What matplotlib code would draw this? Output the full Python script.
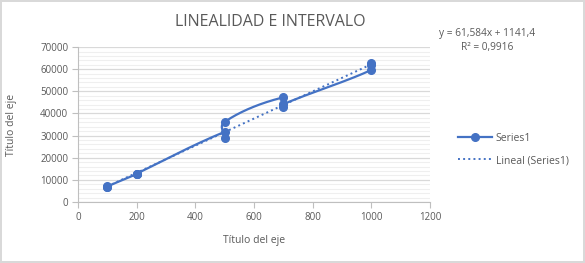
import numpy as np
import matplotlib

matplotlib.use("Agg")
import matplotlib.pyplot as plt
from matplotlib.ticker import MultipleLocator

# data (three replicates per concentration, in plotted order)
concentration = [100, 100, 100, 200, 200, 200, 500, 500, 500,
                 700, 700, 700, 1000, 1000, 1000]
area = [6900, 6700, 7000, 12600, 12500, 12800, 31700, 29000, 36200,
        47300, 42700, 44200, 59700, 62600, 61900]

equation_text = "y = 61,584x + 1141,4"
r2_text = "R² = 0,9916"

BLUE = "#4472C4"
GREY_TXT = "#595959"


def smooth_path(xs, ys, steps=30):
    """Bezier smoothing through the points in order (like Excel's smoothed line)."""
    pts = np.column_stack([xs, ys]).astype(float)
    scale = np.array([1.0 / 1200, 1.0 / 70000])
    p = pts * scale
    p = np.vstack([p[0], p, p[-1]])
    out = []
    for i in range(1, len(p) - 2):
        p0, p1, p2, p3 = p[i - 1], p[i], p[i + 1], p[i + 2]
        seglen = np.linalg.norm(p2 - p1)
        if seglen < 1e-9:
            continue
        d1, d2 = p2 - p0, p3 - p1
        n1, n2 = np.linalg.norm(d1), np.linalg.norm(d2)
        # tangent directions, control arms sized by the segment length
        c1 = p1 + (d1 / n1 if n1 > 0 else 0) * seglen / 3
        c2 = p2 - (d2 / n2 if n2 > 0 else 0) * seglen / 3
        t = np.linspace(0, 1, steps)[:, None]
        seg = ((1 - t) ** 3) * p1 + 3 * ((1 - t) ** 2) * t * c1 + 3 * (1 - t) * t ** 2 * c2 + t ** 3 * p2
        out.append(seg)
    res = np.vstack(out) / scale
    return res[:, 0], res[:, 1]


plt.rcParams["font.family"] = ["Open Sans", "DejaVu Sans"]

fig = plt.figure(figsize=(5.85, 2.63), dpi=100)
fig.patch.set_edgecolor("#d9d9d9")
fig.patch.set_linewidth(1.5)
ax = fig.add_axes([0.1333, 0.232, 0.602, 0.589])

sx, sy = smooth_path(concentration, area)
ax.plot(sx, sy, color=BLUE, lw=1.6, zorder=3)
ax.plot(concentration, area, "o", color=BLUE, ms=5.5, zorder=4)
ax.plot([], [], "-o", color=BLUE, ms=5.5, lw=1.6, label="Series1")

slope, intercept = np.polyfit(concentration, area, 1)
tx = np.array([min(concentration), max(concentration)])
ax.plot(tx, slope * tx + intercept, ":", color=BLUE, lw=1.4, zorder=2,
        label="Lineal (Series1)")

ax.set_xlim(0, 1200)
ax.set_ylim(0, 70000)
ax.xaxis.set_major_locator(MultipleLocator(200))
ax.yaxis.set_major_locator(MultipleLocator(10000))
ax.yaxis.set_minor_locator(MultipleLocator(2000))
ax.grid(axis="y", which="major", color="#d9d9d9", lw=0.9)
ax.grid(axis="y", which="minor", color="#efefef", lw=0.8)
ax.set_axisbelow(True)
for s in ["top", "right"]:
    ax.spines[s].set_visible(False)
for s in ["left", "bottom"]:
    ax.spines[s].set_color("#bfbfbf")
ax.tick_params(which="major", length=4, color="#bfbfbf", labelsize=7, labelcolor=GREY_TXT, pad=3)
ax.tick_params(which="minor", length=0)

ax.set_xlabel("Título del eje", fontsize=7.5, color=GREY_TXT, labelpad=9)
ax.set_ylabel("Título del eje", fontsize=7.5, color=GREY_TXT, labelpad=17)
fig.text(0.462, 0.915, "LINEALIDAD E INTERVALO", ha="center", va="center",
         fontsize=11.5, color=GREY_TXT)
fig.text(0.832, 0.871, equation_text, ha="center", va="center", fontsize=7.3, color=GREY_TXT)
fig.text(0.832, 0.821, r2_text, ha="center", va="center", fontsize=7.3, color=GREY_TXT)

ax.legend(loc="center left", bbox_to_anchor=(1.053, 0.34),
          frameon=False, fontsize=7.5, labelcolor=GREY_TXT, handlelength=3.2,
          handletextpad=0.4, labelspacing=1.1)

fig.savefig("out.png", dpi=100)
